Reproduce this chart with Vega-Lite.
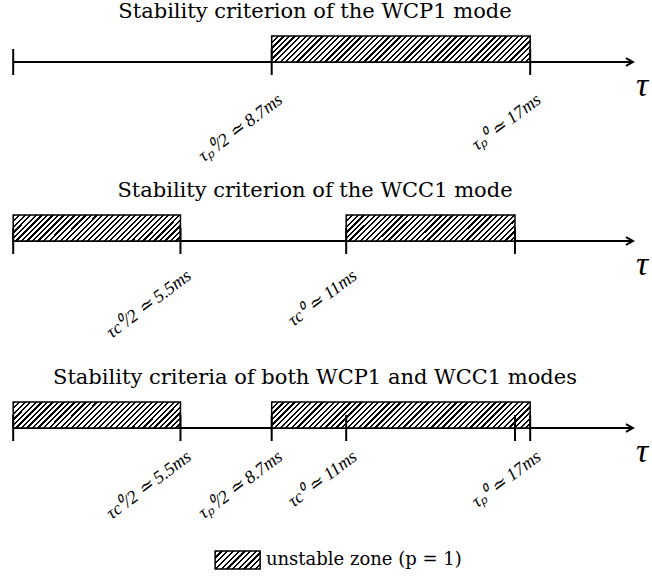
{
"$schema": "https://vega.github.io/schema/vega-lite/v6.json",
"padding": {"top": 1, "left": 0, "right": 0, "bottom": 0},
"background": "white",
"bounds": "flush",
"spacing": 153,
"config": {
  "view": {"stroke": null},
  "title": {"font": "DejaVu Serif", "fontSize": 21, "fontWeight": "normal", "color": "black", "baseline": "alphabetic", "offset": 13, "dx": -11, "anchor": "middle"}
},
"datasets": {
  "axes": [
    {"panel": 1, "from": 0, "to": 20.38},
    {"panel": 2, "from": 0, "to": 20.38},
    {"panel": 3, "from": 0, "to": 20.38}
  ],
  "zones": [
    {"panel": 1, "start": 8.5, "end": 17},
    {"panel": 2, "start": 0, "end": 5.5},
    {"panel": 2, "start": 10.95, "end": 16.5},
    {"panel": 3, "start": 0, "end": 5.5},
    {"panel": 3, "start": 8.5, "end": 17}
  ],
  "ticks": [
    {"panel": 1, "tau": 0, "label": ""},
    {"panel": 1, "tau": 8.5, "label": "τₚ⁰/2 ≃ 8.7ms"},
    {"panel": 1, "tau": 17, "label": "τₚ⁰ ≃ 17ms"},
    {"panel": 2, "tau": 0, "label": ""},
    {"panel": 2, "tau": 5.5, "label": "τc⁰/2 ≃ 5.5ms"},
    {"panel": 2, "tau": 10.95, "label": "τc⁰ ≃ 11ms"},
    {"panel": 2, "tau": 16.5, "label": ""},
    {"panel": 3, "tau": 0, "label": ""},
    {"panel": 3, "tau": 5.5, "label": "τc⁰/2 ≃ 5.5ms"},
    {"panel": 3, "tau": 8.5, "label": "τₚ⁰/2 ≃ 8.7ms"},
    {"panel": 3, "tau": 10.95, "label": "τc⁰ ≃ 11ms"},
    {"panel": 3, "tau": 16.5, "label": ""},
    {"panel": 3, "tau": 17, "label": "τₚ⁰ ≃ 17ms"}
  ],
  "legend": [{"item": "unstable zone (p = 1)"}]
},
"vconcat": [
  {
    "title": "Stability criterion of the WCP1 mode",
    "width": 652, "height": 26,
    "layer": [
      {"data": {"name": "axes"}, "transform": [{"filter": "datum.panel == 1"}],
       "mark": {"type": "rule", "color": "black", "strokeWidth": 2},
       "encoding": {"x": {"field": "from", "type": "quantitative", "scale": {"domain": [-0.434, 21.006], "nice": false, "zero": false}, "axis": null},
                    "x2": {"field": "to"},
                    "y": {"datum": 0, "type": "quantitative", "scale": {"domain": [0, 1], "nice": false, "zero": false}, "axis": null}}},
      {"data": {"name": "axes"}, "transform": [{"filter": "datum.panel == 1"}],
       "mark": {"type": "point", "shape": "M-1,-0.57L0,0L-1,0.57", "size": 196, "filled": false, "color": "black", "stroke": "black", "strokeWidth": 2, "opacity": 1},
       "encoding": {"x": {"field": "to", "type": "quantitative"}, "y": {"datum": 0, "type": "quantitative"}}},
      {"data": {"name": "axes"}, "transform": [{"filter": "datum.panel == 1"}],
       "mark": {"type": "text", "text": "τ", "font": "Liberation Serif", "fontStyle": "italic", "fontSize": 34, "align": "center", "baseline": "middle", "xOffset": 9, "yOffset": 24, "color": "black"},
       "encoding": {"x": {"field": "to", "type": "quantitative"}, "y": {"datum": 0, "type": "quantitative"}}},
      {"data": {"name": "zones"}, "transform": [{"filter": "datum.panel == 1"}],
       "mark": {"type": "rect", "stroke": "black", "strokeWidth": 1.5, "fill": {"gradient": "linear", "x1": 0, "y1": 0, "x2": 1.0896, "y2": 0.1096, "stops": [
{"offset":0,"color":"#000"},{"offset":0.0078,"color":"#000"},{"offset":0.0078,"color":"#fff"},{"offset":0.0196,"color":"#fff"},
{"offset":0.0196,"color":"#000"},{"offset":0.0275,"color":"#000"},{"offset":0.0275,"color":"#fff"},{"offset":0.0392,"color":"#fff"},
{"offset":0.0392,"color":"#000"},{"offset":0.0471,"color":"#000"},{"offset":0.0471,"color":"#fff"},{"offset":0.0588,"color":"#fff"},
{"offset":0.0588,"color":"#000"},{"offset":0.0667,"color":"#000"},{"offset":0.0667,"color":"#fff"},{"offset":0.0784,"color":"#fff"},
{"offset":0.0784,"color":"#000"},{"offset":0.0863,"color":"#000"},{"offset":0.0863,"color":"#fff"},{"offset":0.0980,"color":"#fff"},
{"offset":0.0980,"color":"#000"},{"offset":0.1059,"color":"#000"},{"offset":0.1059,"color":"#fff"},{"offset":0.1176,"color":"#fff"},
{"offset":0.1176,"color":"#000"},{"offset":0.1255,"color":"#000"},{"offset":0.1255,"color":"#fff"},{"offset":0.1373,"color":"#fff"},
{"offset":0.1373,"color":"#000"},{"offset":0.1451,"color":"#000"},{"offset":0.1451,"color":"#fff"},{"offset":0.1569,"color":"#fff"},
{"offset":0.1569,"color":"#000"},{"offset":0.1647,"color":"#000"},{"offset":0.1647,"color":"#fff"},{"offset":0.1765,"color":"#fff"},
{"offset":0.1765,"color":"#000"},{"offset":0.1843,"color":"#000"},{"offset":0.1843,"color":"#fff"},{"offset":0.1961,"color":"#fff"},
{"offset":0.1961,"color":"#000"},{"offset":0.2039,"color":"#000"},{"offset":0.2039,"color":"#fff"},{"offset":0.2157,"color":"#fff"},
{"offset":0.2157,"color":"#000"},{"offset":0.2235,"color":"#000"},{"offset":0.2235,"color":"#fff"},{"offset":0.2353,"color":"#fff"},
{"offset":0.2353,"color":"#000"},{"offset":0.2431,"color":"#000"},{"offset":0.2431,"color":"#fff"},{"offset":0.2549,"color":"#fff"},
{"offset":0.2549,"color":"#000"},{"offset":0.2627,"color":"#000"},{"offset":0.2627,"color":"#fff"},{"offset":0.2745,"color":"#fff"},
{"offset":0.2745,"color":"#000"},{"offset":0.2824,"color":"#000"},{"offset":0.2824,"color":"#fff"},{"offset":0.2941,"color":"#fff"},
{"offset":0.2941,"color":"#000"},{"offset":0.3020,"color":"#000"},{"offset":0.3020,"color":"#fff"},{"offset":0.3137,"color":"#fff"},
{"offset":0.3137,"color":"#000"},{"offset":0.3216,"color":"#000"},{"offset":0.3216,"color":"#fff"},{"offset":0.3333,"color":"#fff"},
{"offset":0.3333,"color":"#000"},{"offset":0.3412,"color":"#000"},{"offset":0.3412,"color":"#fff"},{"offset":0.3529,"color":"#fff"},
{"offset":0.3529,"color":"#000"},{"offset":0.3608,"color":"#000"},{"offset":0.3608,"color":"#fff"},{"offset":0.3725,"color":"#fff"},
{"offset":0.3725,"color":"#000"},{"offset":0.3804,"color":"#000"},{"offset":0.3804,"color":"#fff"},{"offset":0.3922,"color":"#fff"},
{"offset":0.3922,"color":"#000"},{"offset":0.4000,"color":"#000"},{"offset":0.4000,"color":"#fff"},{"offset":0.4118,"color":"#fff"},
{"offset":0.4118,"color":"#000"},{"offset":0.4196,"color":"#000"},{"offset":0.4196,"color":"#fff"},{"offset":0.4314,"color":"#fff"},
{"offset":0.4314,"color":"#000"},{"offset":0.4392,"color":"#000"},{"offset":0.4392,"color":"#fff"},{"offset":0.4510,"color":"#fff"},
{"offset":0.4510,"color":"#000"},{"offset":0.4588,"color":"#000"},{"offset":0.4588,"color":"#fff"},{"offset":0.4706,"color":"#fff"},
{"offset":0.4706,"color":"#000"},{"offset":0.4784,"color":"#000"},{"offset":0.4784,"color":"#fff"},{"offset":0.4902,"color":"#fff"},
{"offset":0.4902,"color":"#000"},{"offset":0.4980,"color":"#000"},{"offset":0.4980,"color":"#fff"},{"offset":0.5098,"color":"#fff"},
{"offset":0.5098,"color":"#000"},{"offset":0.5176,"color":"#000"},{"offset":0.5176,"color":"#fff"},{"offset":0.5294,"color":"#fff"},
{"offset":0.5294,"color":"#000"},{"offset":0.5373,"color":"#000"},{"offset":0.5373,"color":"#fff"},{"offset":0.5490,"color":"#fff"},
{"offset":0.5490,"color":"#000"},{"offset":0.5569,"color":"#000"},{"offset":0.5569,"color":"#fff"},{"offset":0.5686,"color":"#fff"},
{"offset":0.5686,"color":"#000"},{"offset":0.5765,"color":"#000"},{"offset":0.5765,"color":"#fff"},{"offset":0.5882,"color":"#fff"},
{"offset":0.5882,"color":"#000"},{"offset":0.5961,"color":"#000"},{"offset":0.5961,"color":"#fff"},{"offset":0.6078,"color":"#fff"},
{"offset":0.6078,"color":"#000"},{"offset":0.6157,"color":"#000"},{"offset":0.6157,"color":"#fff"},{"offset":0.6275,"color":"#fff"},
{"offset":0.6275,"color":"#000"},{"offset":0.6353,"color":"#000"},{"offset":0.6353,"color":"#fff"},{"offset":0.6471,"color":"#fff"},
{"offset":0.6471,"color":"#000"},{"offset":0.6549,"color":"#000"},{"offset":0.6549,"color":"#fff"},{"offset":0.6667,"color":"#fff"},
{"offset":0.6667,"color":"#000"},{"offset":0.6745,"color":"#000"},{"offset":0.6745,"color":"#fff"},{"offset":0.6863,"color":"#fff"},
{"offset":0.6863,"color":"#000"},{"offset":0.6941,"color":"#000"},{"offset":0.6941,"color":"#fff"},{"offset":0.7059,"color":"#fff"},
{"offset":0.7059,"color":"#000"},{"offset":0.7137,"color":"#000"},{"offset":0.7137,"color":"#fff"},{"offset":0.7255,"color":"#fff"},
{"offset":0.7255,"color":"#000"},{"offset":0.7333,"color":"#000"},{"offset":0.7333,"color":"#fff"},{"offset":0.7451,"color":"#fff"},
{"offset":0.7451,"color":"#000"},{"offset":0.7529,"color":"#000"},{"offset":0.7529,"color":"#fff"},{"offset":0.7647,"color":"#fff"},
{"offset":0.7647,"color":"#000"},{"offset":0.7725,"color":"#000"},{"offset":0.7725,"color":"#fff"},{"offset":0.7843,"color":"#fff"},
{"offset":0.7843,"color":"#000"},{"offset":0.7922,"color":"#000"},{"offset":0.7922,"color":"#fff"},{"offset":0.8039,"color":"#fff"},
{"offset":0.8039,"color":"#000"},{"offset":0.8118,"color":"#000"},{"offset":0.8118,"color":"#fff"},{"offset":0.8235,"color":"#fff"},
{"offset":0.8235,"color":"#000"},{"offset":0.8314,"color":"#000"},{"offset":0.8314,"color":"#fff"},{"offset":0.8431,"color":"#fff"},
{"offset":0.8431,"color":"#000"},{"offset":0.8510,"color":"#000"},{"offset":0.8510,"color":"#fff"},{"offset":0.8627,"color":"#fff"},
{"offset":0.8627,"color":"#000"},{"offset":0.8706,"color":"#000"},{"offset":0.8706,"color":"#fff"},{"offset":0.8824,"color":"#fff"},
{"offset":0.8824,"color":"#000"},{"offset":0.8902,"color":"#000"},{"offset":0.8902,"color":"#fff"},{"offset":0.9020,"color":"#fff"},
{"offset":0.9020,"color":"#000"},{"offset":0.9098,"color":"#000"},{"offset":0.9098,"color":"#fff"},{"offset":0.9216,"color":"#fff"},
{"offset":0.9216,"color":"#000"},{"offset":0.9294,"color":"#000"},{"offset":0.9294,"color":"#fff"},{"offset":0.9412,"color":"#fff"},
{"offset":0.9412,"color":"#000"},{"offset":0.9490,"color":"#000"},{"offset":0.9490,"color":"#fff"},{"offset":0.9608,"color":"#fff"},
{"offset":0.9608,"color":"#000"},{"offset":0.9686,"color":"#000"},{"offset":0.9686,"color":"#fff"},{"offset":0.9804,"color":"#fff"},
{"offset":0.9804,"color":"#000"},{"offset":0.9882,"color":"#000"},{"offset":0.9882,"color":"#fff"},{"offset":1,"color":"#fff"}
       ]}},
       "encoding": {"x": {"field": "start", "type": "quantitative"}, "x2": {"field": "end"}, "y": {"datum": 0, "type": "quantitative"}, "y2": {"datum": 1}}},
      {"data": {"name": "ticks"}, "transform": [{"filter": "datum.panel == 1"}],
       "mark": {"type": "point", "shape": "M0,-1L0,1", "size": 676, "filled": false, "color": "black", "stroke": "black", "strokeWidth": 2, "opacity": 1},
       "encoding": {"x": {"field": "tau", "type": "quantitative"}, "y": {"datum": 0, "type": "quantitative"}}},
      {"data": {"name": "ticks"}, "transform": [{"filter": "datum.panel == 1 && datum.label != ''"}],
       "mark": {"type": "text", "font": "Liberation Serif", "fontStyle": "italic", "fontSize": 18, "angle": -37, "align": "right", "baseline": "middle", "xOffset": 9, "yOffset": 36, "color": "black"},
       "encoding": {"x": {"field": "tau", "type": "quantitative"}, "y": {"datum": 0, "type": "quantitative"}, "text": {"field": "label"}}}
    ]
  },
  {
    "title": "Stability criterion of the WCC1 mode",
    "width": 652, "height": 34,
    "layer": [
      {"data": {"name": "axes"}, "transform": [{"filter": "datum.panel == 2"}],
       "mark": {"type": "rule", "color": "black", "strokeWidth": 2},
       "encoding": {"x": {"field": "from", "type": "quantitative", "scale": {"domain": [-0.434, 21.006], "nice": false, "zero": false}, "axis": null},
                    "x2": {"field": "to"},
                    "y": {"datum": 0, "type": "quantitative", "scale": {"domain": [-0.30769, 1], "nice": false, "zero": false}, "axis": null}}},
      {"data": {"name": "axes"}, "transform": [{"filter": "datum.panel == 2"}],
       "mark": {"type": "point", "shape": "M-1,-0.57L0,0L-1,0.57", "size": 196, "filled": false, "color": "black", "stroke": "black", "strokeWidth": 2, "opacity": 1},
       "encoding": {"x": {"field": "to", "type": "quantitative"}, "y": {"datum": 0, "type": "quantitative"}}},
      {"data": {"name": "axes"}, "transform": [{"filter": "datum.panel == 2"}],
       "mark": {"type": "text", "text": "τ", "font": "Liberation Serif", "fontStyle": "italic", "fontSize": 34, "align": "center", "baseline": "middle", "xOffset": 9, "yOffset": 24, "color": "black"},
       "encoding": {"x": {"field": "to", "type": "quantitative"}, "y": {"datum": 0, "type": "quantitative"}}},
      {"data": {"name": "zones"}, "transform": [{"filter": "datum.panel == 2"}],
       "mark": {"type": "rect", "stroke": "black", "strokeWidth": 1.5, "fill": {"gradient": "linear", "x1": 0, "y1": 0, "x2": 1.1278, "y2": 0.1745, "stops": [
{"offset":0,"color":"#000"},{"offset":0.0114,"color":"#000"},{"offset":0.0114,"color":"#fff"},{"offset":0.0286,"color":"#fff"},
{"offset":0.0286,"color":"#000"},{"offset":0.04,"color":"#000"},{"offset":0.04,"color":"#fff"},{"offset":0.0571,"color":"#fff"},
{"offset":0.0571,"color":"#000"},{"offset":0.0686,"color":"#000"},{"offset":0.0686,"color":"#fff"},{"offset":0.0857,"color":"#fff"},
{"offset":0.0857,"color":"#000"},{"offset":0.0971,"color":"#000"},{"offset":0.0971,"color":"#fff"},{"offset":0.1143,"color":"#fff"},
{"offset":0.1143,"color":"#000"},{"offset":0.1257,"color":"#000"},{"offset":0.1257,"color":"#fff"},{"offset":0.1429,"color":"#fff"},
{"offset":0.1429,"color":"#000"},{"offset":0.1543,"color":"#000"},{"offset":0.1543,"color":"#fff"},{"offset":0.1714,"color":"#fff"},
{"offset":0.1714,"color":"#000"},{"offset":0.1829,"color":"#000"},{"offset":0.1829,"color":"#fff"},{"offset":0.2,"color":"#fff"},
{"offset":0.2,"color":"#000"},{"offset":0.2114,"color":"#000"},{"offset":0.2114,"color":"#fff"},{"offset":0.2286,"color":"#fff"},
{"offset":0.2286,"color":"#000"},{"offset":0.24,"color":"#000"},{"offset":0.24,"color":"#fff"},{"offset":0.2571,"color":"#fff"},
{"offset":0.2571,"color":"#000"},{"offset":0.2686,"color":"#000"},{"offset":0.2686,"color":"#fff"},{"offset":0.2857,"color":"#fff"},
{"offset":0.2857,"color":"#000"},{"offset":0.2971,"color":"#000"},{"offset":0.2971,"color":"#fff"},{"offset":0.3143,"color":"#fff"},
{"offset":0.3143,"color":"#000"},{"offset":0.3257,"color":"#000"},{"offset":0.3257,"color":"#fff"},{"offset":0.3429,"color":"#fff"},
{"offset":0.3429,"color":"#000"},{"offset":0.3543,"color":"#000"},{"offset":0.3543,"color":"#fff"},{"offset":0.3714,"color":"#fff"},
{"offset":0.3714,"color":"#000"},{"offset":0.3829,"color":"#000"},{"offset":0.3829,"color":"#fff"},{"offset":0.4,"color":"#fff"},
{"offset":0.4,"color":"#000"},{"offset":0.4114,"color":"#000"},{"offset":0.4114,"color":"#fff"},{"offset":0.4286,"color":"#fff"},
{"offset":0.4286,"color":"#000"},{"offset":0.44,"color":"#000"},{"offset":0.44,"color":"#fff"},{"offset":0.4571,"color":"#fff"},
{"offset":0.4571,"color":"#000"},{"offset":0.4686,"color":"#000"},{"offset":0.4686,"color":"#fff"},{"offset":0.4857,"color":"#fff"},
{"offset":0.4857,"color":"#000"},{"offset":0.4971,"color":"#000"},{"offset":0.4971,"color":"#fff"},{"offset":0.5143,"color":"#fff"},
{"offset":0.5143,"color":"#000"},{"offset":0.5257,"color":"#000"},{"offset":0.5257,"color":"#fff"},{"offset":0.5429,"color":"#fff"},
{"offset":0.5429,"color":"#000"},{"offset":0.5543,"color":"#000"},{"offset":0.5543,"color":"#fff"},{"offset":0.5714,"color":"#fff"},
{"offset":0.5714,"color":"#000"},{"offset":0.5829,"color":"#000"},{"offset":0.5829,"color":"#fff"},{"offset":0.6,"color":"#fff"},
{"offset":0.6,"color":"#000"},{"offset":0.6114,"color":"#000"},{"offset":0.6114,"color":"#fff"},{"offset":0.6286,"color":"#fff"},
{"offset":0.6286,"color":"#000"},{"offset":0.64,"color":"#000"},{"offset":0.64,"color":"#fff"},{"offset":0.6571,"color":"#fff"},
{"offset":0.6571,"color":"#000"},{"offset":0.6686,"color":"#000"},{"offset":0.6686,"color":"#fff"},{"offset":0.6857,"color":"#fff"},
{"offset":0.6857,"color":"#000"},{"offset":0.6971,"color":"#000"},{"offset":0.6971,"color":"#fff"},{"offset":0.7143,"color":"#fff"},
{"offset":0.7143,"color":"#000"},{"offset":0.7257,"color":"#000"},{"offset":0.7257,"color":"#fff"},{"offset":0.7429,"color":"#fff"},
{"offset":0.7429,"color":"#000"},{"offset":0.7543,"color":"#000"},{"offset":0.7543,"color":"#fff"},{"offset":0.7714,"color":"#fff"},
{"offset":0.7714,"color":"#000"},{"offset":0.7829,"color":"#000"},{"offset":0.7829,"color":"#fff"},{"offset":0.8,"color":"#fff"},
{"offset":0.8,"color":"#000"},{"offset":0.8114,"color":"#000"},{"offset":0.8114,"color":"#fff"},{"offset":0.8286,"color":"#fff"},
{"offset":0.8286,"color":"#000"},{"offset":0.84,"color":"#000"},{"offset":0.84,"color":"#fff"},{"offset":0.8571,"color":"#fff"},
{"offset":0.8571,"color":"#000"},{"offset":0.8686,"color":"#000"},{"offset":0.8686,"color":"#fff"},{"offset":0.8857,"color":"#fff"},
{"offset":0.8857,"color":"#000"},{"offset":0.8971,"color":"#000"},{"offset":0.8971,"color":"#fff"},{"offset":0.9143,"color":"#fff"},
{"offset":0.9143,"color":"#000"},{"offset":0.9257,"color":"#000"},{"offset":0.9257,"color":"#fff"},{"offset":0.9429,"color":"#fff"},
{"offset":0.9429,"color":"#000"},{"offset":0.9543,"color":"#000"},{"offset":0.9543,"color":"#fff"},{"offset":0.9714,"color":"#fff"},
{"offset":0.9714,"color":"#000"},{"offset":0.9829,"color":"#000"},{"offset":0.9829,"color":"#fff"},{"offset":1,"color":"#fff"}
       ]}},
       "encoding": {"x": {"field": "start", "type": "quantitative"}, "x2": {"field": "end"}, "y": {"datum": 0, "type": "quantitative"}, "y2": {"datum": 1}}},
      {"data": {"name": "ticks"}, "transform": [{"filter": "datum.panel == 2"}],
       "mark": {"type": "point", "shape": "M0,-1L0,1", "size": 676, "filled": false, "color": "black", "stroke": "black", "strokeWidth": 2, "opacity": 1},
       "encoding": {"x": {"field": "tau", "type": "quantitative"}, "y": {"datum": 0, "type": "quantitative"}}},
      {"data": {"name": "ticks"}, "transform": [{"filter": "datum.panel == 2 && datum.label != ''"}],
       "mark": {"type": "text", "font": "Liberation Serif", "fontStyle": "italic", "fontSize": 18, "angle": -37, "align": "right", "baseline": "middle", "xOffset": 9, "yOffset": 33, "color": "black"},
       "encoding": {"x": {"field": "tau", "type": "quantitative"}, "y": {"datum": 0, "type": "quantitative"}, "text": {"field": "label"}}}
    ]
  },
  {
    "title": "Stability criteria of both WCP1 and WCC1 modes",
    "width": 652, "height": 170,
    "layer": [
      {"data": {"name": "axes"}, "transform": [{"filter": "datum.panel == 3"}],
       "mark": {"type": "rule", "color": "black", "strokeWidth": 2},
       "encoding": {"x": {"field": "from", "type": "quantitative", "scale": {"domain": [-0.434, 21.006], "nice": false, "zero": false}, "axis": null},
                    "x2": {"field": "to"},
                    "y": {"datum": 0, "type": "quantitative", "scale": {"domain": [-5.5385, 1], "nice": false, "zero": false}, "axis": null}}},
      {"data": {"name": "axes"}, "transform": [{"filter": "datum.panel == 3"}],
       "mark": {"type": "point", "shape": "M-1,-0.57L0,0L-1,0.57", "size": 196, "filled": false, "color": "black", "stroke": "black", "strokeWidth": 2, "opacity": 1},
       "encoding": {"x": {"field": "to", "type": "quantitative"}, "y": {"datum": 0, "type": "quantitative"}}},
      {"data": {"name": "axes"}, "transform": [{"filter": "datum.panel == 3"}],
       "mark": {"type": "text", "text": "τ", "font": "Liberation Serif", "fontStyle": "italic", "fontSize": 34, "align": "center", "baseline": "middle", "xOffset": 9, "yOffset": 24, "color": "black"},
       "encoding": {"x": {"field": "to", "type": "quantitative"}, "y": {"datum": 0, "type": "quantitative"}}},
      {"data": {"name": "zones"}, "transform": [{"filter": "datum.panel == 3 && datum.end - datum.start < 7"}],
       "mark": {"type": "rect", "stroke": "black", "strokeWidth": 1.5, "fill": {"gradient": "linear", "x1": 0, "y1": 0, "x2": 1.1278, "y2": 0.1745, "stops": [
{"offset":0,"color":"#000"},{"offset":0.0114,"color":"#000"},{"offset":0.0114,"color":"#fff"},{"offset":0.0286,"color":"#fff"},
{"offset":0.0286,"color":"#000"},{"offset":0.04,"color":"#000"},{"offset":0.04,"color":"#fff"},{"offset":0.0571,"color":"#fff"},
{"offset":0.0571,"color":"#000"},{"offset":0.0686,"color":"#000"},{"offset":0.0686,"color":"#fff"},{"offset":0.0857,"color":"#fff"},
{"offset":0.0857,"color":"#000"},{"offset":0.0971,"color":"#000"},{"offset":0.0971,"color":"#fff"},{"offset":0.1143,"color":"#fff"},
{"offset":0.1143,"color":"#000"},{"offset":0.1257,"color":"#000"},{"offset":0.1257,"color":"#fff"},{"offset":0.1429,"color":"#fff"},
{"offset":0.1429,"color":"#000"},{"offset":0.1543,"color":"#000"},{"offset":0.1543,"color":"#fff"},{"offset":0.1714,"color":"#fff"},
{"offset":0.1714,"color":"#000"},{"offset":0.1829,"color":"#000"},{"offset":0.1829,"color":"#fff"},{"offset":0.2,"color":"#fff"},
{"offset":0.2,"color":"#000"},{"offset":0.2114,"color":"#000"},{"offset":0.2114,"color":"#fff"},{"offset":0.2286,"color":"#fff"},
{"offset":0.2286,"color":"#000"},{"offset":0.24,"color":"#000"},{"offset":0.24,"color":"#fff"},{"offset":0.2571,"color":"#fff"},
{"offset":0.2571,"color":"#000"},{"offset":0.2686,"color":"#000"},{"offset":0.2686,"color":"#fff"},{"offset":0.2857,"color":"#fff"},
{"offset":0.2857,"color":"#000"},{"offset":0.2971,"color":"#000"},{"offset":0.2971,"color":"#fff"},{"offset":0.3143,"color":"#fff"},
{"offset":0.3143,"color":"#000"},{"offset":0.3257,"color":"#000"},{"offset":0.3257,"color":"#fff"},{"offset":0.3429,"color":"#fff"},
{"offset":0.3429,"color":"#000"},{"offset":0.3543,"color":"#000"},{"offset":0.3543,"color":"#fff"},{"offset":0.3714,"color":"#fff"},
{"offset":0.3714,"color":"#000"},{"offset":0.3829,"color":"#000"},{"offset":0.3829,"color":"#fff"},{"offset":0.4,"color":"#fff"},
{"offset":0.4,"color":"#000"},{"offset":0.4114,"color":"#000"},{"offset":0.4114,"color":"#fff"},{"offset":0.4286,"color":"#fff"},
{"offset":0.4286,"color":"#000"},{"offset":0.44,"color":"#000"},{"offset":0.44,"color":"#fff"},{"offset":0.4571,"color":"#fff"},
{"offset":0.4571,"color":"#000"},{"offset":0.4686,"color":"#000"},{"offset":0.4686,"color":"#fff"},{"offset":0.4857,"color":"#fff"},
{"offset":0.4857,"color":"#000"},{"offset":0.4971,"color":"#000"},{"offset":0.4971,"color":"#fff"},{"offset":0.5143,"color":"#fff"},
{"offset":0.5143,"color":"#000"},{"offset":0.5257,"color":"#000"},{"offset":0.5257,"color":"#fff"},{"offset":0.5429,"color":"#fff"},
{"offset":0.5429,"color":"#000"},{"offset":0.5543,"color":"#000"},{"offset":0.5543,"color":"#fff"},{"offset":0.5714,"color":"#fff"},
{"offset":0.5714,"color":"#000"},{"offset":0.5829,"color":"#000"},{"offset":0.5829,"color":"#fff"},{"offset":0.6,"color":"#fff"},
{"offset":0.6,"color":"#000"},{"offset":0.6114,"color":"#000"},{"offset":0.6114,"color":"#fff"},{"offset":0.6286,"color":"#fff"},
{"offset":0.6286,"color":"#000"},{"offset":0.64,"color":"#000"},{"offset":0.64,"color":"#fff"},{"offset":0.6571,"color":"#fff"},
{"offset":0.6571,"color":"#000"},{"offset":0.6686,"color":"#000"},{"offset":0.6686,"color":"#fff"},{"offset":0.6857,"color":"#fff"},
{"offset":0.6857,"color":"#000"},{"offset":0.6971,"color":"#000"},{"offset":0.6971,"color":"#fff"},{"offset":0.7143,"color":"#fff"},
{"offset":0.7143,"color":"#000"},{"offset":0.7257,"color":"#000"},{"offset":0.7257,"color":"#fff"},{"offset":0.7429,"color":"#fff"},
{"offset":0.7429,"color":"#000"},{"offset":0.7543,"color":"#000"},{"offset":0.7543,"color":"#fff"},{"offset":0.7714,"color":"#fff"},
{"offset":0.7714,"color":"#000"},{"offset":0.7829,"color":"#000"},{"offset":0.7829,"color":"#fff"},{"offset":0.8,"color":"#fff"},
{"offset":0.8,"color":"#000"},{"offset":0.8114,"color":"#000"},{"offset":0.8114,"color":"#fff"},{"offset":0.8286,"color":"#fff"},
{"offset":0.8286,"color":"#000"},{"offset":0.84,"color":"#000"},{"offset":0.84,"color":"#fff"},{"offset":0.8571,"color":"#fff"},
{"offset":0.8571,"color":"#000"},{"offset":0.8686,"color":"#000"},{"offset":0.8686,"color":"#fff"},{"offset":0.8857,"color":"#fff"},
{"offset":0.8857,"color":"#000"},{"offset":0.8971,"color":"#000"},{"offset":0.8971,"color":"#fff"},{"offset":0.9143,"color":"#fff"},
{"offset":0.9143,"color":"#000"},{"offset":0.9257,"color":"#000"},{"offset":0.9257,"color":"#fff"},{"offset":0.9429,"color":"#fff"},
{"offset":0.9429,"color":"#000"},{"offset":0.9543,"color":"#000"},{"offset":0.9543,"color":"#fff"},{"offset":0.9714,"color":"#fff"},
{"offset":0.9714,"color":"#000"},{"offset":0.9829,"color":"#000"},{"offset":0.9829,"color":"#fff"},{"offset":1,"color":"#fff"}
       ]}},
       "encoding": {"x": {"field": "start", "type": "quantitative"}, "x2": {"field": "end"}, "y": {"datum": 0, "type": "quantitative"}, "y2": {"datum": 1}}},
      {"data": {"name": "zones"}, "transform": [{"filter": "datum.panel == 3 && datum.end - datum.start >= 7"}],
       "mark": {"type": "rect", "stroke": "black", "strokeWidth": 1.5, "fill": {"gradient": "linear", "x1": 0, "y1": 0, "x2": 1.0896, "y2": 0.1096, "stops": [
{"offset":0,"color":"#000"},{"offset":0.0078,"color":"#000"},{"offset":0.0078,"color":"#fff"},{"offset":0.0196,"color":"#fff"},
{"offset":0.0196,"color":"#000"},{"offset":0.0275,"color":"#000"},{"offset":0.0275,"color":"#fff"},{"offset":0.0392,"color":"#fff"},
{"offset":0.0392,"color":"#000"},{"offset":0.0471,"color":"#000"},{"offset":0.0471,"color":"#fff"},{"offset":0.0588,"color":"#fff"},
{"offset":0.0588,"color":"#000"},{"offset":0.0667,"color":"#000"},{"offset":0.0667,"color":"#fff"},{"offset":0.0784,"color":"#fff"},
{"offset":0.0784,"color":"#000"},{"offset":0.0863,"color":"#000"},{"offset":0.0863,"color":"#fff"},{"offset":0.0980,"color":"#fff"},
{"offset":0.0980,"color":"#000"},{"offset":0.1059,"color":"#000"},{"offset":0.1059,"color":"#fff"},{"offset":0.1176,"color":"#fff"},
{"offset":0.1176,"color":"#000"},{"offset":0.1255,"color":"#000"},{"offset":0.1255,"color":"#fff"},{"offset":0.1373,"color":"#fff"},
{"offset":0.1373,"color":"#000"},{"offset":0.1451,"color":"#000"},{"offset":0.1451,"color":"#fff"},{"offset":0.1569,"color":"#fff"},
{"offset":0.1569,"color":"#000"},{"offset":0.1647,"color":"#000"},{"offset":0.1647,"color":"#fff"},{"offset":0.1765,"color":"#fff"},
{"offset":0.1765,"color":"#000"},{"offset":0.1843,"color":"#000"},{"offset":0.1843,"color":"#fff"},{"offset":0.1961,"color":"#fff"},
{"offset":0.1961,"color":"#000"},{"offset":0.2039,"color":"#000"},{"offset":0.2039,"color":"#fff"},{"offset":0.2157,"color":"#fff"},
{"offset":0.2157,"color":"#000"},{"offset":0.2235,"color":"#000"},{"offset":0.2235,"color":"#fff"},{"offset":0.2353,"color":"#fff"},
{"offset":0.2353,"color":"#000"},{"offset":0.2431,"color":"#000"},{"offset":0.2431,"color":"#fff"},{"offset":0.2549,"color":"#fff"},
{"offset":0.2549,"color":"#000"},{"offset":0.2627,"color":"#000"},{"offset":0.2627,"color":"#fff"},{"offset":0.2745,"color":"#fff"},
{"offset":0.2745,"color":"#000"},{"offset":0.2824,"color":"#000"},{"offset":0.2824,"color":"#fff"},{"offset":0.2941,"color":"#fff"},
{"offset":0.2941,"color":"#000"},{"offset":0.3020,"color":"#000"},{"offset":0.3020,"color":"#fff"},{"offset":0.3137,"color":"#fff"},
{"offset":0.3137,"color":"#000"},{"offset":0.3216,"color":"#000"},{"offset":0.3216,"color":"#fff"},{"offset":0.3333,"color":"#fff"},
{"offset":0.3333,"color":"#000"},{"offset":0.3412,"color":"#000"},{"offset":0.3412,"color":"#fff"},{"offset":0.3529,"color":"#fff"},
{"offset":0.3529,"color":"#000"},{"offset":0.3608,"color":"#000"},{"offset":0.3608,"color":"#fff"},{"offset":0.3725,"color":"#fff"},
{"offset":0.3725,"color":"#000"},{"offset":0.3804,"color":"#000"},{"offset":0.3804,"color":"#fff"},{"offset":0.3922,"color":"#fff"},
{"offset":0.3922,"color":"#000"},{"offset":0.4000,"color":"#000"},{"offset":0.4000,"color":"#fff"},{"offset":0.4118,"color":"#fff"},
{"offset":0.4118,"color":"#000"},{"offset":0.4196,"color":"#000"},{"offset":0.4196,"color":"#fff"},{"offset":0.4314,"color":"#fff"},
{"offset":0.4314,"color":"#000"},{"offset":0.4392,"color":"#000"},{"offset":0.4392,"color":"#fff"},{"offset":0.4510,"color":"#fff"},
{"offset":0.4510,"color":"#000"},{"offset":0.4588,"color":"#000"},{"offset":0.4588,"color":"#fff"},{"offset":0.4706,"color":"#fff"},
{"offset":0.4706,"color":"#000"},{"offset":0.4784,"color":"#000"},{"offset":0.4784,"color":"#fff"},{"offset":0.4902,"color":"#fff"},
{"offset":0.4902,"color":"#000"},{"offset":0.4980,"color":"#000"},{"offset":0.4980,"color":"#fff"},{"offset":0.5098,"color":"#fff"},
{"offset":0.5098,"color":"#000"},{"offset":0.5176,"color":"#000"},{"offset":0.5176,"color":"#fff"},{"offset":0.5294,"color":"#fff"},
{"offset":0.5294,"color":"#000"},{"offset":0.5373,"color":"#000"},{"offset":0.5373,"color":"#fff"},{"offset":0.5490,"color":"#fff"},
{"offset":0.5490,"color":"#000"},{"offset":0.5569,"color":"#000"},{"offset":0.5569,"color":"#fff"},{"offset":0.5686,"color":"#fff"},
{"offset":0.5686,"color":"#000"},{"offset":0.5765,"color":"#000"},{"offset":0.5765,"color":"#fff"},{"offset":0.5882,"color":"#fff"},
{"offset":0.5882,"color":"#000"},{"offset":0.5961,"color":"#000"},{"offset":0.5961,"color":"#fff"},{"offset":0.6078,"color":"#fff"},
{"offset":0.6078,"color":"#000"},{"offset":0.6157,"color":"#000"},{"offset":0.6157,"color":"#fff"},{"offset":0.6275,"color":"#fff"},
{"offset":0.6275,"color":"#000"},{"offset":0.6353,"color":"#000"},{"offset":0.6353,"color":"#fff"},{"offset":0.6471,"color":"#fff"},
{"offset":0.6471,"color":"#000"},{"offset":0.6549,"color":"#000"},{"offset":0.6549,"color":"#fff"},{"offset":0.6667,"color":"#fff"},
{"offset":0.6667,"color":"#000"},{"offset":0.6745,"color":"#000"},{"offset":0.6745,"color":"#fff"},{"offset":0.6863,"color":"#fff"},
{"offset":0.6863,"color":"#000"},{"offset":0.6941,"color":"#000"},{"offset":0.6941,"color":"#fff"},{"offset":0.7059,"color":"#fff"},
{"offset":0.7059,"color":"#000"},{"offset":0.7137,"color":"#000"},{"offset":0.7137,"color":"#fff"},{"offset":0.7255,"color":"#fff"},
{"offset":0.7255,"color":"#000"},{"offset":0.7333,"color":"#000"},{"offset":0.7333,"color":"#fff"},{"offset":0.7451,"color":"#fff"},
{"offset":0.7451,"color":"#000"},{"offset":0.7529,"color":"#000"},{"offset":0.7529,"color":"#fff"},{"offset":0.7647,"color":"#fff"},
{"offset":0.7647,"color":"#000"},{"offset":0.7725,"color":"#000"},{"offset":0.7725,"color":"#fff"},{"offset":0.7843,"color":"#fff"},
{"offset":0.7843,"color":"#000"},{"offset":0.7922,"color":"#000"},{"offset":0.7922,"color":"#fff"},{"offset":0.8039,"color":"#fff"},
{"offset":0.8039,"color":"#000"},{"offset":0.8118,"color":"#000"},{"offset":0.8118,"color":"#fff"},{"offset":0.8235,"color":"#fff"},
{"offset":0.8235,"color":"#000"},{"offset":0.8314,"color":"#000"},{"offset":0.8314,"color":"#fff"},{"offset":0.8431,"color":"#fff"},
{"offset":0.8431,"color":"#000"},{"offset":0.8510,"color":"#000"},{"offset":0.8510,"color":"#fff"},{"offset":0.8627,"color":"#fff"},
{"offset":0.8627,"color":"#000"},{"offset":0.8706,"color":"#000"},{"offset":0.8706,"color":"#fff"},{"offset":0.8824,"color":"#fff"},
{"offset":0.8824,"color":"#000"},{"offset":0.8902,"color":"#000"},{"offset":0.8902,"color":"#fff"},{"offset":0.9020,"color":"#fff"},
{"offset":0.9020,"color":"#000"},{"offset":0.9098,"color":"#000"},{"offset":0.9098,"color":"#fff"},{"offset":0.9216,"color":"#fff"},
{"offset":0.9216,"color":"#000"},{"offset":0.9294,"color":"#000"},{"offset":0.9294,"color":"#fff"},{"offset":0.9412,"color":"#fff"},
{"offset":0.9412,"color":"#000"},{"offset":0.9490,"color":"#000"},{"offset":0.9490,"color":"#fff"},{"offset":0.9608,"color":"#fff"},
{"offset":0.9608,"color":"#000"},{"offset":0.9686,"color":"#000"},{"offset":0.9686,"color":"#fff"},{"offset":0.9804,"color":"#fff"},
{"offset":0.9804,"color":"#000"},{"offset":0.9882,"color":"#000"},{"offset":0.9882,"color":"#fff"},{"offset":1,"color":"#fff"}
       ]}},
       "encoding": {"x": {"field": "start", "type": "quantitative"}, "x2": {"field": "end"}, "y": {"datum": 0, "type": "quantitative"}, "y2": {"datum": 1}}},
      {"data": {"name": "ticks"}, "transform": [{"filter": "datum.panel == 3"}],
       "mark": {"type": "point", "shape": "M0,-1L0,1", "size": 676, "filled": false, "color": "black", "stroke": "black", "strokeWidth": 2, "opacity": 1},
       "encoding": {"x": {"field": "tau", "type": "quantitative"}, "y": {"datum": 0, "type": "quantitative"}}},
      {"data": {"name": "ticks"}, "transform": [{"filter": "datum.panel == 3 && datum.label != ''"}],
       "mark": {"type": "text", "font": "Liberation Serif", "fontStyle": "italic", "fontSize": 18, "angle": -37, "align": "right", "baseline": "middle", "xOffset": 9, "yOffset": 27, "color": "black"},
       "encoding": {"x": {"field": "tau", "type": "quantitative"}, "y": {"datum": 0, "type": "quantitative"}, "text": {"field": "label"}}},
      {"data": {"name": "legend"},
       "mark": {"type": "rect", "stroke": "black", "strokeWidth": 1.5, "fill": {"gradient": "linear", "x1": 0, "y1": 0, "x2": 1.2069, "y2": 0.4828, "stops": [
{"offset":0,"color":"#000"},{"offset":0.0364,"color":"#000"},{"offset":0.0364,"color":"#fff"},{"offset":0.0909,"color":"#fff"},
{"offset":0.0909,"color":"#000"},{"offset":0.1273,"color":"#000"},{"offset":0.1273,"color":"#fff"},{"offset":0.1818,"color":"#fff"},
{"offset":0.1818,"color":"#000"},{"offset":0.2182,"color":"#000"},{"offset":0.2182,"color":"#fff"},{"offset":0.2727,"color":"#fff"},
{"offset":0.2727,"color":"#000"},{"offset":0.3091,"color":"#000"},{"offset":0.3091,"color":"#fff"},{"offset":0.3636,"color":"#fff"},
{"offset":0.3636,"color":"#000"},{"offset":0.4,"color":"#000"},{"offset":0.4,"color":"#fff"},{"offset":0.4545,"color":"#fff"},
{"offset":0.4545,"color":"#000"},{"offset":0.4909,"color":"#000"},{"offset":0.4909,"color":"#fff"},{"offset":0.5455,"color":"#fff"},
{"offset":0.5455,"color":"#000"},{"offset":0.5818,"color":"#000"},{"offset":0.5818,"color":"#fff"},{"offset":0.6364,"color":"#fff"},
{"offset":0.6364,"color":"#000"},{"offset":0.6727,"color":"#000"},{"offset":0.6727,"color":"#fff"},{"offset":0.7273,"color":"#fff"},
{"offset":0.7273,"color":"#000"},{"offset":0.7636,"color":"#000"},{"offset":0.7636,"color":"#fff"},{"offset":0.8182,"color":"#fff"},
{"offset":0.8182,"color":"#000"},{"offset":0.8545,"color":"#000"},{"offset":0.8545,"color":"#fff"},{"offset":0.9091,"color":"#fff"},
{"offset":0.9091,"color":"#000"},{"offset":0.9455,"color":"#000"},{"offset":0.9455,"color":"#fff"},{"offset":1,"color":"#fff"}
       ]}},
       "encoding": {"x": {"datum": 6.64, "type": "quantitative"}, "x2": {"datum": 8.12}, "y": {"datum": -4.7308, "type": "quantitative"}, "y2": {"datum": -5.4231}}},
      {"data": {"name": "legend"},
       "mark": {"type": "text", "font": "DejaVu Serif", "fontSize": 18, "align": "left", "baseline": "middle", "color": "black"},
       "encoding": {"x": {"datum": 8.31, "type": "quantitative"}, "y": {"datum": -5.077, "type": "quantitative"}, "text": {"field": "item"}}}
    ]
  }
]
}
